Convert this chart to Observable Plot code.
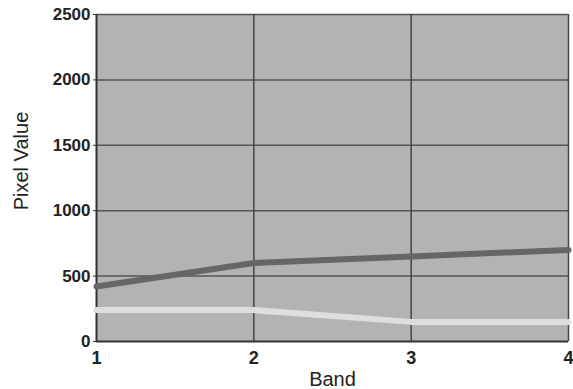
<!DOCTYPE html>
<html>
<head>
<meta charset="utf-8">
<script src="https://cdn.jsdelivr.net/npm/d3@7"></script>
<script src="https://cdn.jsdelivr.net/npm/@observablehq/plot@0.6"></script>
<style>
  html, body { margin: 0; padding: 0; background: #fff; }
  #chart svg { display: block; }
</style>
</head>
<body>
<div id="chart"></div>
<script>
const bands = [1, 2, 3, 4];
const darkSeries = [420, 600, 650, 700];
const lightSeries = [240, 240, 150, 150];
const yTicks = [0, 500, 1000, 1500, 2000, 2500];
const xTicks = [1, 2, 3, 4];

const dark = bands.map((b, i) => ({band: b, value: darkSeries[i]}));
const light = bands.map((b, i) => ({band: b, value: lightSeries[i]}));

const chart = Plot.plot({
  width: 573,
  height: 389,
  marginLeft: 96,
  marginRight: 5,
  marginTop: 14,
  marginBottom: 48,
  style: {fontFamily: "Liberation Sans, Arial, sans-serif", background: "#fff", overflow: "visible"},
  x: {domain: [1, 4], label: null},
  y: {domain: [0, 2500], label: null},
  marks: [
    Plot.frame({fill: "#b3b3b3", stroke: "#b3b3b3"}),
    Plot.ruleY(yTicks.slice(1), {stroke: "#555", strokeWidth: 1.5}),
    Plot.ruleX(xTicks.slice(1), {stroke: "#444", strokeWidth: 1.5}),
    Plot.ruleX([1], {stroke: "#333", strokeWidth: 2}),
    Plot.ruleY([0], {stroke: "#333", strokeWidth: 2}),
    Plot.line(light, {x: "band", y: "value", stroke: "#dedede", strokeWidth: 6}),
    Plot.line(dark, {x: "band", y: "value", stroke: "#666", strokeWidth: 6}),
    Plot.axisX({ticks: xTicks, tickSize: 0, tickPadding: 10, fontSize: 18, fontWeight: "bold", fill: "#222", label: null, tickFormat: d3.format("d")}),
    Plot.axisY({ticks: yTicks, tickSize: 3, tickPadding: 3, fontSize: 17, fontWeight: "bold", fill: "#222", stroke: "#333", label: null, tickFormat: d3.format("d"), style: {letterSpacing: "-0.3px"}}),
    Plot.text(["Band"], {frameAnchor: "bottom", dy: 44, fontSize: 20, fill: "#222"}),
    Plot.text(["Pixel Value"], {frameAnchor: "left", textAnchor: "middle", dx: -75, dy: -17, rotate: -90, fontSize: 20, fill: "#222"})
  ]
});
document.getElementById("chart").append(chart);
</script>
</body>
</html>
